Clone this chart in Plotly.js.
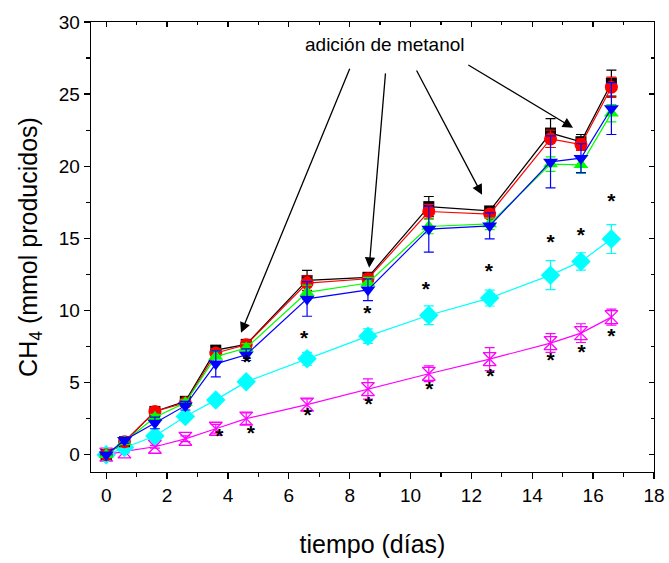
<!DOCTYPE html>
<html>
<head>
<meta charset="utf-8">
<script src="https://cdn.plot.ly/plotly-3.0.1.min.js"></script>
<style>html,body{margin:0;padding:0;background:#fff;}#chart{width:669px;height:563px;}</style>
</head>
<body>
<div id="chart"></div>
<script>
// days
const dias = [0, 0.6, 1.6, 2.6, 3.6, 4.6, 6.6, 8.6, 10.6, 12.6, 14.6, 15.6, 16.6];

// series (mmol CH4)
const serieNegra   = [0, 0.9, 3.0, 3.7, 7.25, 7.65, 12.08, 12.3, 17.2, 16.9, 22.3, 21.7, 25.76];
const errNegra     = [0, 0.1, 0.2, 0.2, 0.3, 0.3, 0.7, 0.3, 0.7, 0.3, 1.0, 0.5, 0.9];
const serieRoja    = [0, 0.9, 3.0, 3.6, 7.05, 7.62, 11.9, 12.2, 16.86, 16.68, 21.9, 21.5, 25.48];
const errRoja      = [0, 0.1, 0.2, 0.2, 0.3, 0.3, 0.5, 0.3, 0.5, 0.3, 0.6, 0.4, 0.7];
const serieVerde   = [0, 0.9, 2.6, 3.6, 6.8, 7.4, 11.25, 11.9, 15.82, 16.0, 20.15, 20.1, 23.68];
const errVerde     = [0, 0.1, 0.2, 0.2, 0.4, 0.3, 0.5, 0.4, 0.5, 0.4, 0.5, 0.6, 0.6];
const serieAzul    = [0, 1.0, 2.2, 3.4, 6.3, 6.93, 10.8, 11.43, 15.64, 15.87, 20.3, 20.56, 24.0];
const errAzul      = [0, 0.2, 0.4, 0.3, 0.9, 0.4, 1.2, 0.75, 1.6, 0.9, 1.8, 1.0, 1.8];
const serieCian    = [0, 0.5, 1.3, 2.65, 3.8, 5.05, 6.65, 8.22, 9.67, 10.86, 12.45, 13.4, 14.95];
const errCian      = [0, 0.1, 0.1, 0.2, 0.2, 0.2, 0.45, 0.5, 0.65, 0.55, 1.0, 0.6, 1.0];
const serieMagenta = [0, 0.23, 0.55, 1.1, 1.8, 2.5, 3.47, 4.55, 5.61, 6.63, 7.74, 8.43, 9.54];
const errMagenta   = [0, 0.1, 0.1, 0.2, 0.3, 0.4, 0.4, 0.7, 0.55, 0.8, 0.65, 0.65, 0.55];

// significance marks (*)
const estrellaX = [3.72, 4.75, 4.62, 6.5, 6.62, 8.58, 8.62, 10.5, 10.62, 12.57, 12.62, 14.6, 14.6, 15.6, 15.62, 16.6, 16.6];
const estrellaY = [1.15, 1.4, 6.3, 7.95, 2.6, 9.7, 3.4, 11.36, 4.45, 12.64, 5.36, 14.6, 6.47, 15.13, 7.03, 17.46, 8.13];

// annotation arrows: [head x, head y, tail x, tail y]
const flechaPuntaX = [4.43, 8.64, 12.35, 15.34];
const flechaPuntaY = [8.45, 12.96, 18.02, 22.66];
const flechaColaX  = [8.1, 9.2, 10.1, 11.8];
const flechaColaY  = [27.26, 27.03, 27.03, 27.14];
const textoAnot = 'adición de metanol';

const FONT = 'Arial, "Liberation Sans", sans-serif';

function serie(y, err, color, symbol, size, extraMarker) {
  return {
    x: dias, y: y, type: 'scatter', mode: 'lines+markers',
    line: {color: color, width: 1.2},
    marker: Object.assign({color: color, symbol: symbol, size: size, line: {width: 0}}, extraMarker || {}),
    error_y: {type: 'data', array: err, visible: true, color: color, thickness: 1.2, width: 5},
    showlegend: false, cliponaxis: false
  };
}

const traces = [
  serie(serieMagenta, errMagenta, '#ff00ff', 'hourglass-open', 13, {line: {color: '#ff00ff', width: 1.3}}),
  serie(serieCian, errCian, '#00ffff', 'diamond', 15),
  serie(serieNegra, errNegra, '#000000', 'square', 11),
  serie(serieRoja, errRoja, '#ff0000', 'circle', 13),
  serie(serieVerde, errVerde, '#00ff00', 'triangle-up', 13),
  serie(serieAzul, errAzul, '#0000ff', 'triangle-down', 13),
  {
    x: estrellaX, y: estrellaY, type: 'scatter', mode: 'text',
    text: estrellaX.map(() => '<b>*</b>'), textposition: 'middle center',
    textfont: {family: FONT, size: 21, color: '#000'}, showlegend: false, hoverinfo: 'skip'
  },
  {x: [], y: [], xaxis: 'x2', yaxis: 'y2', type: 'scatter', showlegend: false}
];

const annotations = [{
  x: 9.17, y: 28.45, xref: 'x', yref: 'y', text: textoAnot, showarrow: false,
  font: {family: FONT, size: 19, color: '#000'}
}];
for (let i = 0; i < flechaPuntaX.length; i++) {
  annotations.push({
    x: flechaPuntaX[i], y: flechaPuntaY[i], ax: flechaColaX[i], ay: flechaColaY[i],
    xref: 'x', yref: 'y', axref: 'x', ayref: 'y', text: ' ', showarrow: true,
    arrowhead: 2, arrowsize: 1.6, arrowwidth: 1.3, arrowcolor: '#000'
  });
}

const axisCommon = {
  showgrid: false, zeroline: false, showline: true, linecolor: '#000', linewidth: 1.3,
  ticks: 'outside', ticklen: 6, tickwidth: 1.3, tickcolor: '#000',
  tickfont: {family: FONT, size: 19, color: '#000'}
};

const layout = {
  width: 669, height: 563,
  margin: {l: 91, r: 15, t: 22, b: 91},
  paper_bgcolor: '#fff', plot_bgcolor: '#fff',
  font: {family: FONT, color: '#000'},
  xaxis: Object.assign({}, axisCommon, {
    range: [-0.5, 18], tickmode: 'linear', tick0: 0, dtick: 2,
    minor: {dtick: 1, tick0: 0, ticks: 'outside', ticklen: 4, tickwidth: 1.3, tickcolor: '#000'},
    title: {text: 'tiempo (días)', font: {family: FONT, size: 25, color: '#000'}, standoff: 30}
  }),
  yaxis: Object.assign({}, axisCommon, {
    range: [-1.2, 30], tickmode: 'linear', tick0: 0, dtick: 5,
    minor: {dtick: 2.5, tick0: 0, ticks: 'outside', ticklen: 4, tickwidth: 1.3, tickcolor: '#000'},
    title: {text: 'CH<sub>4</sub> (mmol producidos)', font: {family: FONT, size: 25, color: '#000'}, standoff: 14}
  }),
  xaxis2: {
    overlaying: 'x', side: 'top', range: [-0.5, 18], showgrid: false, zeroline: false,
    showline: true, linecolor: '#000', linewidth: 1.3, showticklabels: false,
    ticks: 'inside', ticklen: 5, tickwidth: 1.3, tickcolor: '#000', tickmode: 'linear', tick0: 0, dtick: 2,
    minor: {dtick: 1, tick0: 0, ticks: 'inside', ticklen: 3, tickwidth: 1.3, tickcolor: '#000'}
  },
  yaxis2: {
    overlaying: 'y', side: 'right', range: [-1.2, 30], showgrid: false, zeroline: false,
    showline: true, linecolor: '#000', linewidth: 1.3, showticklabels: false,
    ticks: 'inside', ticklen: 5, tickwidth: 1.3, tickcolor: '#000', tickmode: 'linear', tick0: 0, dtick: 5,
    minor: {dtick: 2.5, tick0: 0, ticks: 'inside', ticklen: 3, tickwidth: 1.3, tickcolor: '#000'}
  },
  annotations: annotations
};

Plotly.newPlot('chart', traces, layout, {staticPlot: true, displayModeBar: false});
</script>
</body>
</html>
